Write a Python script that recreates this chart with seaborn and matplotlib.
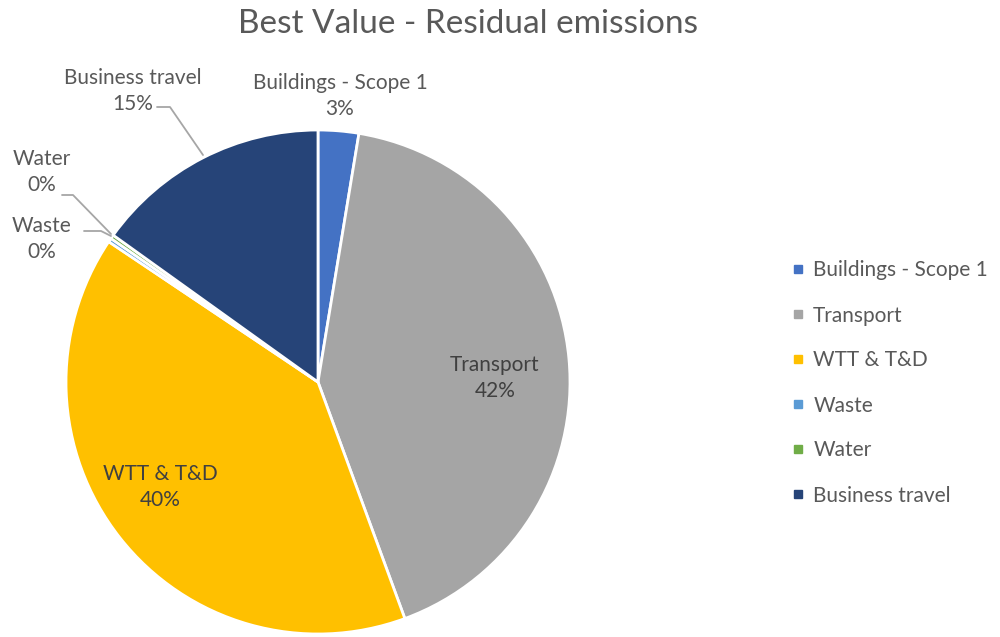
import numpy as np
import matplotlib
matplotlib.use("Agg")
import matplotlib.pyplot as plt
import seaborn as sns
from matplotlib.lines import Line2D

categories = ["Buildings - Scope 1", "Transport", "WTT & T&D", "Waste", "Water", "Business travel"]
values = [2.6, 41.8, 40.0, 0.25, 0.25, 15.1]
pct_labels = ["3%", "42%", "40%", "0%", "0%", "15%"]
colors = ["#4472C4", "#A5A5A5", "#FFC000", "#5B9BD5", "#70AD47", "#264478"]
title = "Best Value - Residual emissions"

sns.set_theme(style="white")
plt.rcParams['font.family'] = ['Lato', 'DejaVu Sans']
txt = "#595959"

W, H = 1000, 637
fig = plt.figure(figsize=(W/100, H/100), dpi=100)
cx, cy, R = 318, 382, 252
ax = fig.add_axes([(cx-R)/W, (H-cy-R)/H, 2*R/W, 2*R/H])

wedges, _ = ax.pie(values, colors=colors, startangle=90, counterclock=False, radius=1,
                   wedgeprops=dict(edgecolor="white", linewidth=2))
ax.set_xlim(-1, 1); ax.set_ylim(-1, 1)
ax.set_aspect("equal")
ax.axis("off")

def p(px, py):
    return ((px-cx)/R, (cy-py)/R)

fs = 15
ls = 1.35
ax.text(*p(495, 378), "Transport\n42%", ha="center", va="center", fontsize=fs, color="#404040", linespacing=ls)
ax.text(*p(160, 487), "WTT & T&D\n40%", ha="center", va="center", fontsize=fs, color="#404040", linespacing=ls)
ax.text(*p(340, 96), "Buildings - Scope 1\n3%", ha="center", va="center", fontsize=fs, color=txt, linespacing=ls, clip_on=False)
ax.text(*p(133, 91), "Business travel\n15%", ha="center", va="center", fontsize=fs, color=txt, linespacing=ls, clip_on=False)
ax.text(*p(42, 172), "Water\n0%", ha="center", va="center", fontsize=fs, color=txt, linespacing=ls, clip_on=False)
ax.text(*p(42, 239), "Waste\n0%", ha="center", va="center", fontsize=fs, color=txt, linespacing=ls, clip_on=False)

lc = "#A6A6A6"
def leader(pts):
    xs, ys = zip(*[p(a, b) for a, b in pts])
    ax.add_line(Line2D(xs, ys, color=lc, lw=1.3, clip_on=False))
leader([(157, 107), (170, 107), (203, 155)])
leader([(62, 195), (73, 195), (111, 234)])
leader([(84, 231), (101, 231), (111, 236)])

fig.text(0.468, 1-24/H, title, ha="center", va="center", fontsize=24, color=txt)

handles = [Line2D([], [], marker="s", linestyle="none", markersize=6,
                  markerfacecolor=c, markeredgecolor=c) for c in colors]
fig.legend(handles, categories, loc="center left", bbox_to_anchor=(783/W, 1-383/H),
           frameon=False, fontsize=15, labelcolor=txt, handlelength=0.6,
           handletextpad=0.45, labelspacing=1.2, borderaxespad=0)

fig.savefig("out.png", dpi=100, facecolor="white")
